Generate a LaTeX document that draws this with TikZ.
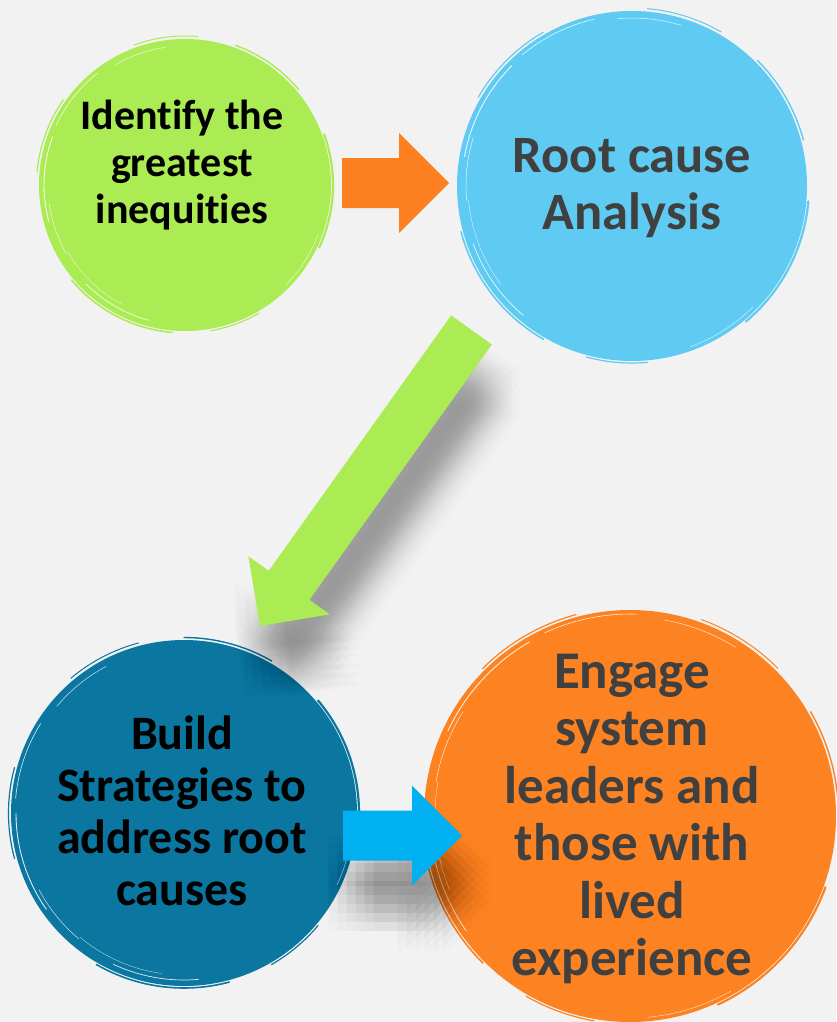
\documentclass[tikz,border=0pt]{standalone}
\usepackage{fontspec}
\setmainfont{Carlito}[Ligatures={NoCommon,NoContextual}]
\usetikzlibrary{calc}
\definecolor{bg}{HTML}{F2F2F2}
\definecolor{cgreen}{HTML}{ABEB53}
\definecolor{cblue}{HTML}{5FCBF3}
\definecolor{cteal}{HTML}{0B769F}
\definecolor{corange}{HTML}{FD8221}
\definecolor{aorange}{HTML}{FD8020}
\definecolor{agreen}{HTML}{ABEB53}
\definecolor{ablue}{HTML}{00B0F0}
\definecolor{tgray}{HTML}{404040}
\tikzset{
  disc/.style={circle, inner sep=0pt, fill=#1},
  txt/.style={align=center, inner sep=0pt},
  shadowlayer/.style={fill=black, opacity=0.012},
}
% brush-like edge streaks: node, radius, colour, rotation
\newcommand\brushedge[4]{%
  \foreach \a/\b/\dr/\w/\c/\o in {
     165/200/-5/0.9/white/0.85, 150/172/-9/0.5/white/0.8, 205/232/-4/0.6/white/0.85,
     105/135/-6/0.7/white/0.85, 118/150/-11/0.4/white/0.7, 240/262/-7/0.5/white/0.8,
     20/45/-4/0.5/white/0.7,
     340/385/2/2.2/#3/1, 290/320/2.5/1.4/#3/1, 95/140/2/1.6/#3/1,
     185/215/2.5/1.2/#3/1, 250/275/3/1/#3/1, 60/80/2/1.2/#3/1}{%
    \draw[\c, opacity=\o, line width=\w*1pt, line cap=round]
      ($(#1.center)+({\a+#4}:{#2+\dr})$) arc[start angle={\a+#4}, end angle={\b+#4}, radius={#2+\dr}];
  }}
% block arrow geometry: prefix, start, end
\newcommand\mkarrow[3]{%
  \coordinate (#1hb) at ($(#3)!50pt!(#2)$);
  \coordinate (#1a) at ($(#2)!25pt!90:(#3)$);
  \coordinate (#1b) at ($(#1hb)!25pt!-90:(#2)$);
  \coordinate (#1c) at ($(#1hb)!50pt!-90:(#2)$);
  \coordinate (#1d) at ($(#1hb)!50pt!90:(#2)$);
  \coordinate (#1e) at ($(#1hb)!25pt!90:(#2)$);
  \coordinate (#1f) at ($(#2)!25pt!-90:(#3)$);
}
% soft shadow of a block arrow: prefix, end
\newcommand\arrowshadow[2]{%
  \foreach \i in {0,...,5}{\foreach \j in {0,...,5}{%
    \begin{scope}[transform canvas={shift={(-14.5+\i*9,25.5+\j*9)}}]
    \fill[shadowlayer]
      (#1a)--(#1b)--(#1c)--(#2)--(#1d)--(#1e)--(#1f)--cycle;
    \end{scope}}}}
\begin{document}
\begin{tikzpicture}[x=1pt,y=-1pt]
\fill[bg] (0,0) rectangle (836,1022);
\useasboundingbox (0,0) rectangle (836,1022);

% circles
\node[disc=cgreen, minimum size=292pt] (green) at (185,185) {};
\brushedge{green}{146}{cgreen}{0}
\node[disc=cblue, minimum size=350pt] (blue) at (632,186) {};
\brushedge{blue}{175}{cblue}{25}
\node[disc=cteal, minimum size=346pt] (teal) at (184,813) {};
\brushedge{teal}{173}{cteal}{-20}
\node[disc=corange, minimum size=412pt] (orange) at (630,816) {};
\brushedge{orange}{206}{corange}{40}

% arrow end points
\coordinate (oS) at (342,183);
\coordinate (oE) at (449,183);
\coordinate (gS) at (471.5,330);
\coordinate (gE) at (260,626);
\coordinate (bS) at (343,835.5);
\coordinate (bE) at (462,835.5);
\mkarrow{o}{oS}{oE}
\mkarrow{g}{gS}{gE}
\mkarrow{b}{bS}{bE}

\arrowshadow{g}{gE}
\fill[agreen] (ga)--(gb)--(gc)--(gE)--(gd)--(ge)--(gf)--cycle;
\arrowshadow{b}{bE}
\fill[ablue] (ba)--(bb)--(bc)--(bE)--(bd)--(be)--(bf)--cycle;
\fill[aorange] (oa)--(ob)--(oc)--(oE)--(od)--(oe)--(of)--cycle;

% texts
\node[txt, font=\bfseries\fontsize{42}{47}\selectfont, text=black] (greenT) at ($(green.center)+(-3,-20)$) {Identify the\\greatest\\inequities};
\node[txt, font=\bfseries\fontsize{52.5}{57}\selectfont, text=tgray] (blueT) at ($(blue.center)+(0,2)$) {Root cause\\Analysis};
\node[txt, font=\bfseries\fontsize{48}{52}\selectfont, text=black] (tealT) at ($(teal.center)+(-2,-2)$) {Build\\Strategies to\\address root\\causes};
\node[txt, font=\bfseries\fontsize{53}{57.5}\selectfont, text=tgray] (orangeT) at ($(orange.center)+(2,3)$) {Engage\\system\\leaders and\\those with\\lived\\experience};
\end{tikzpicture}
\end{document}
